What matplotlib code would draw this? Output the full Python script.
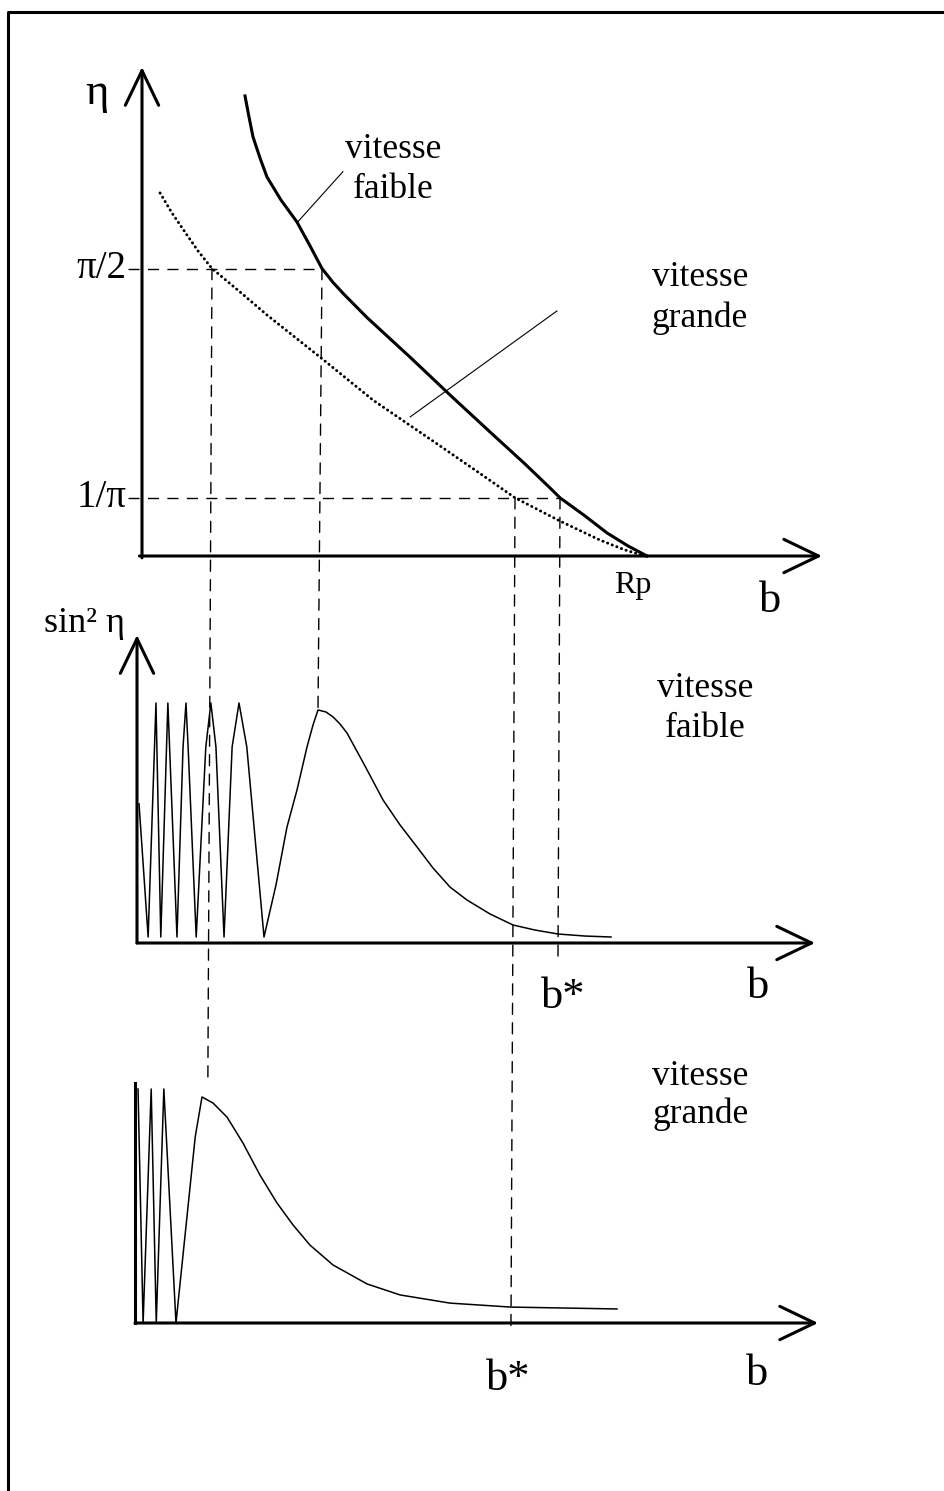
import numpy as np
import matplotlib
matplotlib.use("Agg")
import matplotlib.pyplot as plt
from matplotlib.patches import ConnectionPatch
from matplotlib.lines import Line2D

plt.rcParams['font.family'] = ['Liberation Serif', 'DejaVu Serif']

# ---- data (b in units of Rp) ----
# top panel: deflection eta(b)
b_faible = [0.2036, 0.2115, 0.2194, 0.2332, 0.2470, 0.2747, 0.3063, 0.3320, 0.3557,
            0.3775, 0.3992, 0.4447, 0.5296, 0.6087, 0.6877, 0.7569, 0.8063, 0.8261,
            0.8755, 0.9190, 0.9605, 0.998]
eta_faible = [2.514, 2.399, 2.290, 2.175, 2.071, 1.945, 1.825, 1.695, 1.571,
              1.495, 1.430, 1.303, 1.087, 0.880, 0.678, 0.503, 0.372, 0.318,
              0.219, 0.126, 0.055, 0.0]
b_grande = [0.0356, 0.0593, 0.0850, 0.1107, 0.1383, 0.1937, 0.2470, 0.3518, 0.4565,
            0.5751, 0.6581, 0.7372, 0.8261, 0.9051, 0.9545, 0.9941]
eta_grande = [1.984, 1.874, 1.770, 1.667, 1.571, 1.443, 1.317, 1.087, 0.852,
              0.628, 0.470, 0.318, 0.191, 0.087, 0.033, 0.0]
eta_marks = [np.pi / 2, 1 / np.pi]
eta_labels = ['π/2', '1/π']
I_PI2_F, I_1PI_F = 8, 17     # where the solid curve meets the marks
I_PI2_G, I_1PI_G = 4, 11     # where the dotted curve meets the marks

# middle panel: sin^2 eta, vitesse faible
b_mid = [0.004, 0.022, 0.0375, 0.047, 0.061, 0.079, 0.091, 0.0968, 0.101, 0.117,
         0.136, 0.146, 0.156, 0.172, 0.188, 0.2016, 0.217, 0.251,
         0.2747, 0.2964, 0.3162, 0.336, 0.3478, 0.3577, 0.3735, 0.3874, 0.4012,
         0.4150, 0.4506, 0.4862, 0.5198, 0.5534, 0.5850, 0.6186, 0.6522, 0.6976,
         0.7431, 0.7866, 0.8320, 0.8854, 0.9368]
s_mid = [0.58, 0.025, 1.0, 0.025, 1.0, 0.025, 0.817, 1.0, 0.817, 0.025,
         0.817, 1.0, 0.817, 0.025, 0.817, 1.0, 0.817, 0.025,
         0.242, 0.483, 0.6375, 0.817, 0.908, 0.971, 0.9625, 0.942, 0.9125,
         0.875, 0.7375, 0.596, 0.492, 0.400, 0.3125, 0.233, 0.179, 0.121,
         0.075, 0.054, 0.0375, 0.029, 0.025]
I_PEAK_MID = 23

# bottom panel: sin^2 eta, vitesse grande
b_bot = [0.006, 0.016, 0.032, 0.042, 0.057, 0.081, 0.119, 0.1324, 0.1542, 0.1818,
         0.2134, 0.2470, 0.2806, 0.3123, 0.3458, 0.3913, 0.4585, 0.5237, 0.6225,
         0.7431, 0.9526]
s_bot = [1.0, 0.0, 1.0, 0.0, 1.0, 0.0, 0.795, 0.966, 0.940, 0.880,
         0.769, 0.632, 0.513, 0.419, 0.333, 0.248, 0.167, 0.120, 0.085,
         0.068, 0.060]
b_star_mid, b_star_bot = 0.832, 0.743

W, H = 945, 1491
fig = plt.figure(figsize=(W / 100, H / 100), dpi=100)

# page frame (left and top edges only)
fig.add_artist(Line2D([8 / W, 8 / W, 1], [0, 1 - 12 / H, 1 - 12 / H],
                      transform=fig.transFigure, color='black', lw=2.2))


def panel(x0, y0, sx, sy, box):
    # axes placed so that the data origin sits at pixel (x0, y0)
    xa, ya, xb, yb = box
    ax = fig.add_axes([xa / W, 1 - yb / H, (xb - xa) / W, (yb - ya) / H])
    ax.set_xlim((xa - x0) / sx, (xb - x0) / sx)
    ax.set_ylim((y0 - yb) / sy, (y0 - ya) / sy)
    ax.axis('off')
    ax.patch.set_visible(False)
    return ax


def arrow(ax, start, tip, lw=2.2):
    ax.annotate('', xy=tip, xytext=start,
                arrowprops=dict(arrowstyle='->,head_length=2.5,head_width=1.2',
                                mutation_scale=10, lw=lw, color='black',
                                shrinkA=0, shrinkB=0))


ax_top = panel(142, 556, 506, 183, (30, 40, 930, 640))
ax_mid = panel(137, 943, 506, 240, (30, 590, 930, 1030))
ax_bot = panel(135, 1323, 506, 234, (30, 1040, 930, 1430))

dash = (0, (8, 6))
txt = dict(fontsize=25.5, ha='center', va='baseline')
big = dict(fontsize=32, ha='center', va='baseline')

# ---- top panel ----
arrow(ax_top, (0.0, -0.01), (0.0, 2.672))
arrow(ax_top, (-0.005, 0.0), (1.344, 0.0))
ax_top.plot(b_faible, eta_faible, color='black', lw=2.2, solid_joinstyle='round')
ax_top.plot(b_grande, eta_grande, color='black', lw=2.1, ls=(0, (0.1, 1.6)),
            dash_capstyle='round')
ax_top.plot([-0.028, b_faible[I_PI2_F]], [eta_marks[0]] * 2, color='black', lw=1, ls=dash)
ax_top.plot([-0.028, b_faible[I_1PI_F]], [eta_marks[1]] * 2, color='black', lw=1, ls=dash)
for y, lab in zip(eta_marks, eta_labels):
    ax_top.text(-0.03, y, lab, fontsize=28, ha='right', va='center')
ax_top.text(-0.089, 2.47, 'η', fontsize=32, ha='center', va='baseline')
ax_top.text(0.970, -0.202, 'Rp', fontsize=23, ha='center', va='baseline')
ax_top.text(1.241, -0.306, 'b', **big)
ax_top.plot([0.306, 0.397], [1.82, 2.10], color='black', lw=0.8)
ax_top.text(0.496, 2.175, 'vitesse', **txt)
ax_top.text(0.496, 1.956, 'faible', **txt)
ax_top.plot([0.530, 0.820], [0.760, 1.339], color='black', lw=0.8)
ax_top.text(1.103, 1.475, 'vitesse', **txt)
ax_top.text(1.103, 1.25, 'grande', **txt)

# ---- middle panel ----
arrow(ax_mid, (0.0, 0.0), (0.0, 1.283))
arrow(ax_mid, (0.0, 0.0), (1.340, 0.0))
ax_mid.plot(b_mid, s_mid, color='black', lw=1.1, solid_joinstyle='round')
ax_mid.text(-0.103, 1.296, 'sin² η', fontsize=26, ha='center', va='baseline')
ax_mid.text(1.123, 1.025, 'vitesse', **txt)
ax_mid.text(1.123, 0.858, 'faible', **txt)
ax_mid.text(0.842, -0.271, 'b*', **big)
ax_mid.text(1.227, -0.229, 'b', **big)

# ---- bottom panel ----
ax_bot.plot([0.0, 0.0], [0.0, 1.026], color='black', lw=2.2)
arrow(ax_bot, (0.0, 0.0), (1.350, 0.0))
ax_bot.plot(b_bot, s_bot, color='black', lw=1.1, solid_joinstyle='round')
ax_bot.text(1.117, 1.017, 'vitesse', **txt)
ax_bot.text(1.117, 0.855, 'grande', **txt)
ax_bot.text(0.737, -0.286, 'b*', **big)
ax_bot.text(1.229, -0.265, 'b', **big)

# ---- dashed links between panels ----
links = [
    (ax_top, (b_grande[I_PI2_G], eta_marks[0]), ax_bot, (0.144, 1.04)),
    (ax_top, (b_faible[I_PI2_F], eta_marks[0]), ax_mid, (b_mid[I_PEAK_MID], s_mid[I_PEAK_MID])),
    (ax_top, (b_grande[I_1PI_G], eta_marks[1]), ax_bot, (b_star_bot, -0.02)),
    (ax_top, (b_faible[I_1PI_F], eta_marks[1]), ax_mid, (b_star_mid, -0.0625)),
]
for axa, pa, axb, pb in links:
    con = ConnectionPatch(xyA=pa, coordsA=axa.transData, xyB=pb, coordsB=axb.transData,
                          color='black', lw=1, linestyle=dash)
    fig.add_artist(con)

fig.savefig('out.png', dpi=100)
